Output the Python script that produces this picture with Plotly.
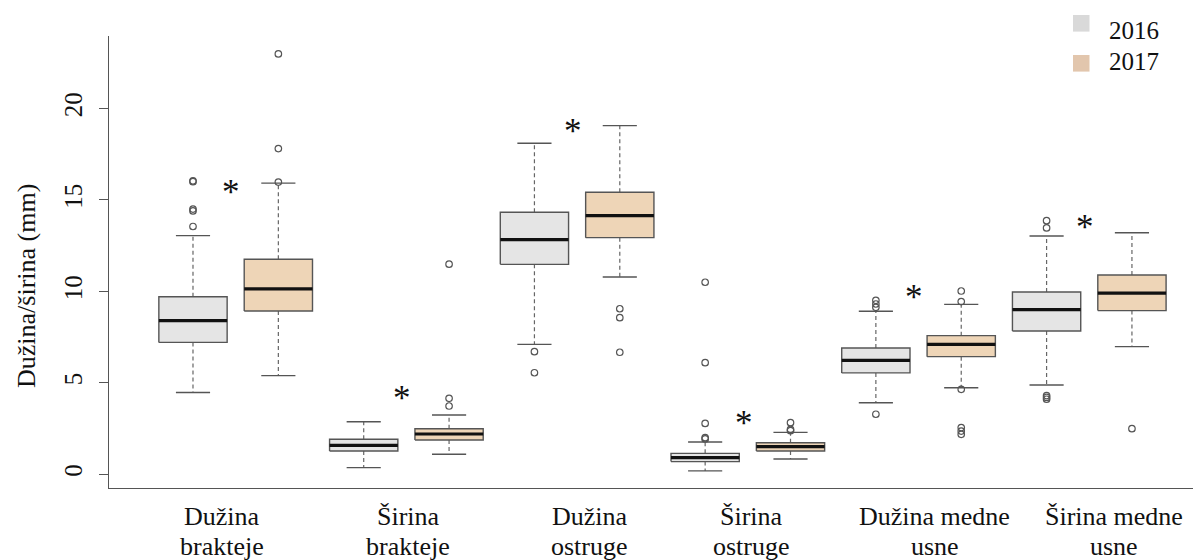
import plotly.graph_objects as go

# ---------------- data ----------------
label_line1 = ["Dužina", "Širina", "Dužina", "Širina", "Dužina medne", "Širina medne"]
label_line2 = ["brakteje", "brakteje", "ostruge", "ostruge", "usne", "usne"]
years = ["2016", "2017"]

q1_2016 = [7.21, 1.27, 11.48, 0.69, 5.54, 7.83]
med_2016 = [8.40, 1.58, 12.83, 0.91, 6.23, 9.00]
q3_2016 = [9.71, 1.91, 14.33, 1.14, 6.90, 9.97]
lo_2016 = [4.47, 0.36, 7.10, 0.18, 3.91, 4.88]
hi_2016 = [13.05, 2.87, 18.10, 1.76, 8.91, 13.03]
out_2016 = [[13.55, 14.40, 14.50, 16.00, 16.05], [], [6.70, 5.55],
            [1.93, 2.00, 2.78, 6.10, 10.50], [3.28, 9.13, 9.31, 9.51],
            [13.47, 13.87, 4.30, 4.20, 4.10]]

q1_2017 = [8.93, 1.87, 12.94, 1.27, 6.43, 8.95]
med_2017 = [10.14, 2.20, 14.14, 1.51, 7.10, 9.91]
q3_2017 = [11.76, 2.49, 15.42, 1.72, 7.58, 10.90]
lo_2017 = [5.39, 1.09, 10.79, 0.83, 4.73, 6.98]
hi_2017 = [15.92, 3.24, 19.07, 2.29, 9.29, 13.21]
out_2017 = [[15.98, 17.81, 22.99], [3.73, 4.15, 11.49], [9.05, 8.56, 6.67],
            [2.38, 2.45, 2.82], [9.44, 10.02, 4.64, 2.55, 2.36, 2.18], [2.49]]

signif_y = [15.6, 4.32, 18.9, 2.95, 9.85, 13.67]

y_ticks = [0, 5, 10, 15, 20]

# ---------------- style ----------------
FILL = {"2016": "#E5E5E5", "2017": "#EED5B7"}
KEY = {"2016": "#D9D9D9", "2017": "#E2C6AD"}
EDGE = "#555555"
FONT = "Liberation Serif, Times New Roman, serif"
BW = 0.4   # half box width
CW = 0.2   # half cap width

# page geometry (the page body has an 8px margin)
PL, PT, PW, PH = 109, 36, 1092, 452   # plot area in page pixels


def px_x(X):
    return (X - PL) / PW


def px_y(Y):
    return (PT + PH - Y) / PH


series = {
    "2016": (q1_2016, med_2016, q3_2016, lo_2016, hi_2016, out_2016),
    "2017": (q1_2017, med_2017, q3_2017, lo_2017, hi_2017, out_2017),
}

fig = go.Figure()

for yi, yr in enumerate(years):
    q1, md, q3, lo, hi, outs = series[yr]
    pos = [2 * g + 1 + yi for g in range(len(q1))]
    wx, wy, cx, cy, bx, by, mx, my, ox, oy = [], [], [], [], [], [], [], [], [], []
    for p, a, m, b, l, h, o in zip(pos, q1, md, q3, lo, hi, outs):
        wx += [p, p, None, p, p, None]
        wy += [b, h, None, a, l, None]
        cx += [p - CW, p + CW, None, p - CW, p + CW, None]
        cy += [h, h, None, l, l, None]
        bx += [p - BW, p + BW, p + BW, p - BW, p - BW, None]
        by += [a, a, b, b, a, None]
        mx += [p - BW, p + BW, None]
        my += [m, m, None]
        ox += [p] * len(o)
        oy += list(o)
    fig.add_trace(go.Scatter(x=wx, y=wy, mode="lines", showlegend=False, hoverinfo="skip",
                             line=dict(color="#666666", width=1.2, dash="4px,3px")))
    fig.add_trace(go.Scatter(x=cx, y=cy, mode="lines", showlegend=False, hoverinfo="skip",
                             line=dict(color=EDGE, width=1.4)))
    fig.add_trace(go.Scatter(x=bx, y=by, mode="lines", fill="toself", fillcolor=FILL[yr],
                             showlegend=False, line=dict(color=EDGE, width=1.4)))
    fig.add_trace(go.Scatter(x=mx, y=my, mode="lines", showlegend=False, hoverinfo="skip",
                             line=dict(color="#111111", width=3.2)))
    fig.add_trace(go.Scatter(x=ox, y=oy, mode="markers", showlegend=False,
                             marker=dict(symbol="circle-open", size=6.5, color=EDGE,
                                         line=dict(width=1.2, color=EDGE))))

annotations = []
# significance asterisks (between each pair of boxes)
for g, sy in enumerate(signif_y):
    annotations.append(dict(x=2 * g + 1.5 - 0.05, y=sy, xref="x", yref="y", text="*",
                            showarrow=False, yshift=-3, xanchor="center", yanchor="middle",
                            font=dict(family=FONT, size=35, color="#111111")))
# category labels
label_x = [1.34, 3.52, 5.65, 7.54, 9.69, 11.79]
for lx, t1, t2 in zip(label_x, label_line1, label_line2):
    annotations.append(dict(x=lx, y=px_y(517), xref="x", yref="paper", text=t1,
                            showarrow=False, xanchor="center", yanchor="middle",
                            font=dict(family=FONT, size=26, color="#111111")))
    annotations.append(dict(x=lx, y=px_y(546), xref="x", yref="paper", text=t2,
                            showarrow=False, xanchor="center", yanchor="middle",
                            font=dict(family=FONT, size=26, color="#111111")))
# y title
annotations.append(dict(x=px_x(26), y=px_y(286), xref="paper", yref="paper",
                        text="Dužina/širina (mm)", textangle=-90, showarrow=False,
                        xanchor="center", yanchor="middle",
                        font=dict(family=FONT, size=26, color="#111111")))
# legend text
for yr, ly in zip(years, [30, 61]):
    annotations.append(dict(x=px_x(1107), y=px_y(ly), xref="paper", yref="paper",
                            text=yr, showarrow=False, xanchor="left", yanchor="middle",
                            font=dict(family=FONT, size=25, color="#111111")))

shapes = []
for yr, cyp in zip(years, [23.3, 63.3]):
    shapes.append(dict(type="rect", xref="paper", yref="paper",
                       x0=px_x(1073), x1=px_x(1089.5),
                       y0=px_y(cyp + 8.3), y1=px_y(cyp - 8.3),
                       fillcolor=KEY[yr], line=dict(width=0), layer="above"))

fig.update_layout(
    width=1193, height=552,
    margin=dict(l=PL - 8, r=0, t=PT - 8, b=552 - (PT + PH - 8), pad=0),
    paper_bgcolor="white", plot_bgcolor="white",
    showlegend=False,
    annotations=annotations,
    shapes=shapes,
    xaxis=dict(range=[0.016, 12.809], showgrid=False, zeroline=False, showticklabels=False,
               ticks="", showline=True, linecolor="#555555", linewidth=1.3),
    yaxis=dict(range=[-0.755, 23.97], showgrid=False, zeroline=False,
               tickvals=y_ticks, ticktext=[str(v) for v in y_ticks], tickangle=-90,
               ticks="outside", ticklen=9, tickwidth=1.3, tickcolor="#555555",
               ticklabelstandoff=7,
               showline=True, linecolor="#555555", linewidth=1.3,
               tickfont=dict(family=FONT, size=25, color="#111111")),
)

fig.write_html("out.html")
